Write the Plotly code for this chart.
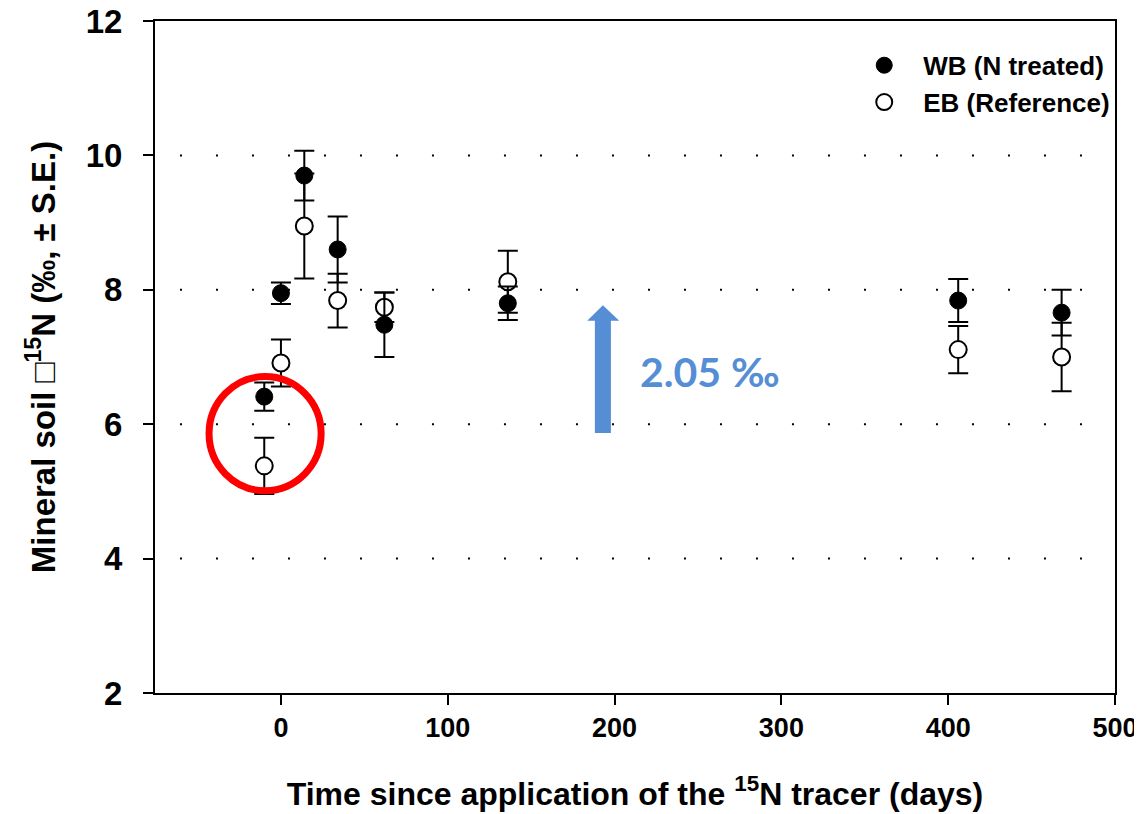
import plotly.graph_objects as go

# ---- data ----
days = [-10, 0, 14, 34, 62, 136, 406, 468]
wb_mean = [6.41, 7.95, 9.70, 8.60, 7.48, 7.80, 7.84, 7.66]
wb_se = [0.21, 0.16, 0.37, 0.49, 0.48, 0.25, 0.32, 0.34]
eb_mean = [5.38, 6.91, 8.95, 7.84, 7.74, 8.12, 7.11, 7.00]
eb_se = [0.42, 0.35, 0.78, 0.40, 0.22, 0.46, 0.35, 0.51]

x_ticks = [0, 100, 200, 300, 400, 500]
y_ticks = [2, 4, 6, 8, 10, 12]
grid_levels = [4, 6, 8, 10]

FONT = "Liberation Sans, Arial, sans-serif"
BLUE = "#558ED5"

fig = go.Figure()

fig.add_trace(go.Scatter(
    x=days, y=eb_mean, mode="markers", name="<b>EB (Reference)</b>",
    legendgroup="eb", legendrank=2,
    marker=dict(symbol="circle", size=17, color="white",
                line=dict(color="black", width=2)),
    error_y=dict(type="data", array=eb_se, visible=True,
                 color="black", thickness=2, width=10),
))
fig.add_trace(go.Scatter(
    x=days, y=wb_mean, mode="markers", name="<b>WB (N treated)</b>",
    legendgroup="wb", legendrank=1,
    marker=dict(symbol="circle", size=17, color="black",
                line=dict(color="black", width=1)),
    error_y=dict(type="data", array=wb_se, visible=True,
                 color="black", thickness=2, width=10),
))

# dotted horizontal grid lines
for g in grid_levels:
    fig.add_shape(type="line", xref="paper", yref="y", x0=0.026, x1=1,
                  y0=g, y1=g, layer="below",
                  line=dict(color="black", width=2, dash="2px,34px"))

# red circle highlighting the pre-treatment samples
fig.add_shape(type="circle", xref="x", yref="y",
              x0=-43.1, x1=24.1, y0=5.01, y1=6.71,
              line=dict(color="#FF0000", width=7))

# blue arrow
fig.add_shape(type="path", xref="x", yref="y",
              path="M 188.2 5.87 L 197.8 5.87 L 197.8 7.54 L 202.8 7.54 "
                   "L 193.0 7.77 L 183.6 7.54 L 188.2 7.54 Z",
              fillcolor=BLUE, line=dict(width=0))
fig.add_annotation(x=214, y=6.78, xref="x", yref="y", text="<b>2.05 ‰</b>",
                   showarrow=False, xanchor="left", yanchor="middle",
                   font=dict(family="Lato, Open Sans, sans-serif", size=41, color=BLUE))

fig.update_layout(
    width=1134, height=806,
    margin=dict(l=147, r=27, t=13, b=121, autoexpand=False),
    plot_bgcolor="white", paper_bgcolor="white",
    font=dict(family=FONT, color="black"),
    showlegend=True,
    legend=dict(x=0.719, y=0.969, xanchor="left", yanchor="top",
                bgcolor="rgba(0,0,0,0)", traceorder="grouped",
                tracegroupgap=0, itemwidth=68,
                font=dict(family=FONT, size=26, color="black")),
)

fig.update_xaxes(
    range=[-75.5, 500], tickvals=x_ticks, ticktext=[f"<b>{v}</b>" for v in x_ticks],
    showgrid=False, zeroline=False, automargin=False, ticklabeloverflow="allow",
    showline=True, linecolor="black", linewidth=2, mirror=True,
    ticks="outside", ticklen=10, tickwidth=2, tickcolor="black",
    tickfont=dict(family=FONT, size=27, color="black"), ticklabelstandoff=0,
    title=dict(text="<b>Time since application of the <sup>15</sup>N tracer (days)</b>",
               font=dict(family=FONT, size=32, color="black"), standoff=40),
)
fig.update_yaxes(
    range=[2, 12], tickvals=y_ticks, ticktext=[f"<b>{v}</b>" for v in y_ticks],
    showgrid=False, zeroline=False, automargin=False, ticklabeloverflow="allow",
    showline=True, linecolor="black", linewidth=2, mirror=True,
    ticks="outside", ticklen=10, tickwidth=2, tickcolor="black",
    tickfont=dict(family=FONT, size=33, color="black"), ticklabelstandoff=14,
    title=dict(text="<b>Mineral soil □<sup>15</sup>N (‰, ± S.E.)</b>",
               font=dict(family=FONT, size=33, color="black"), standoff=20),
)

fig.write_html("out.html")
